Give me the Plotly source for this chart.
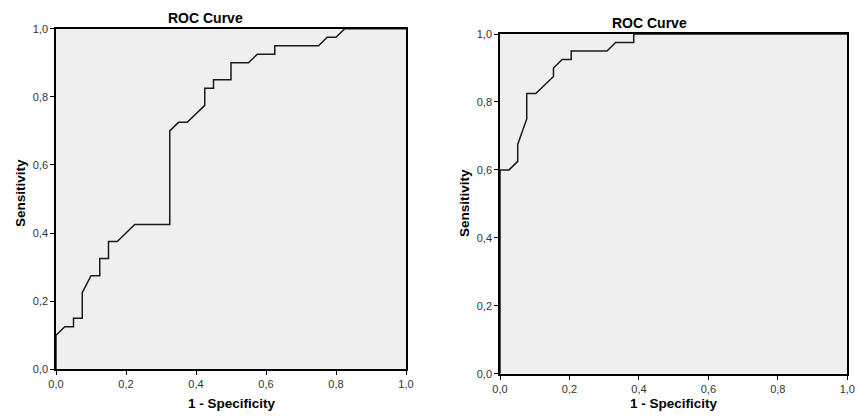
import plotly.graph_objects as go

# Left ROC curve (1 - Specificity, Sensitivity)
left_fpr = [0.0, 0.0, 0.025, 0.05, 0.05, 0.075, 0.075, 0.1, 0.125, 0.125, 0.15, 0.15, 0.175,
            0.225, 0.325, 0.325, 0.35, 0.375, 0.425, 0.425, 0.45, 0.45, 0.5, 0.5, 0.55,
            0.575, 0.625, 0.625, 0.75, 0.775, 0.8, 0.825, 1.0]
left_tpr = [0.0, 0.1, 0.125, 0.125, 0.15, 0.15, 0.225, 0.275, 0.275, 0.325, 0.325, 0.375, 0.375,
            0.425, 0.425, 0.7, 0.725, 0.725, 0.775, 0.825, 0.825, 0.85, 0.85, 0.9, 0.9,
            0.925, 0.925, 0.95, 0.95, 0.975, 0.975, 1.0, 1.0]

# Right ROC curve
right_fpr = [0.0, 0.0, 0.026, 0.051, 0.051, 0.077, 0.077, 0.103, 0.154, 0.154, 0.179, 0.205,
             0.205, 0.308, 0.333, 0.385, 0.385, 1.0]
right_tpr = [0.0, 0.6, 0.6, 0.625, 0.675, 0.75, 0.825, 0.825, 0.875, 0.9, 0.925, 0.925,
             0.95, 0.95, 0.975, 0.975, 1.0, 1.0]

tick_vals = [0.0, 0.2, 0.4, 0.6, 0.8, 1.0]
chart_title = "ROC Curve"
x_title = "1 - Specificity"
y_title = "Sensitivity"

W, H = 860, 419
FONT = "Liberation Sans, Arial, sans-serif"

fig = go.Figure()
fig.add_trace(go.Scatter(x=left_fpr, y=left_tpr, mode="lines",
                         line=dict(color="#1a1a1a", width=1.5), xaxis="x", yaxis="y",
                         showlegend=False, hoverinfo="skip"))
fig.add_trace(go.Scatter(x=right_fpr, y=right_tpr, mode="lines",
                         line=dict(color="#1a1a1a", width=1.5), xaxis="x2", yaxis="y2",
                         showlegend=False, hoverinfo="skip"))

# pixel geometry of the two plot areas
L = dict(x0=56, x1=406, y0=28.7, y1=369.3)
R = dict(x0=500, x1=847.3, y0=34, y1=373.7)

def xd(p):
    return [p["x0"] / W, p["x1"] / W]

def yd(p):
    return [(H - p["y1"]) / H, (H - p["y0"]) / H]

axis_common = dict(range=[0, 1], tickvals=tick_vals, tickformat=".1f", ticks="outside",
                   ticklen=4, tickcolor="#000", tickwidth=1, showgrid=False, zeroline=False,
                   showline=True, linecolor="#000", linewidth=1.6, mirror=True,
                   automargin=False,
                   tickfont=dict(family=FONT, size=11, color="#333"), fixedrange=True)

fig.update_layout(
    width=W, height=H, margin=dict(l=0, r=0, t=0, b=0, pad=0, autoexpand=False),
    paper_bgcolor="white", plot_bgcolor="#efefef",
    separators=",.",
    xaxis=dict(domain=xd(L), anchor="y", **axis_common),
    yaxis=dict(domain=yd(L), anchor="x", **axis_common),
    xaxis2=dict(domain=xd(R), anchor="y2", **axis_common),
    yaxis2=dict(domain=yd(R), anchor="x2", **axis_common),
)

def ann(text, px, py, size, angle=0):
    fig.add_annotation(text=f"<b>{text}</b>", x=px / W, y=(H - py) / H, xref="paper", yref="paper",
                       showarrow=False, xanchor="center", yanchor="middle", textangle=angle,
                       font=dict(family=FONT, size=size, color="#000"))

ann(chart_title, 205, 18, 14)
ann(chart_title, 649, 23, 14)
ann(x_title, 232, 403, 13.5)
ann(x_title, 674, 403, 13.5)
ann(y_title, 20, 193, 13.5, -90)
ann(y_title, 465, 203, 13.5, -90)

fig.write_html("out.html")
